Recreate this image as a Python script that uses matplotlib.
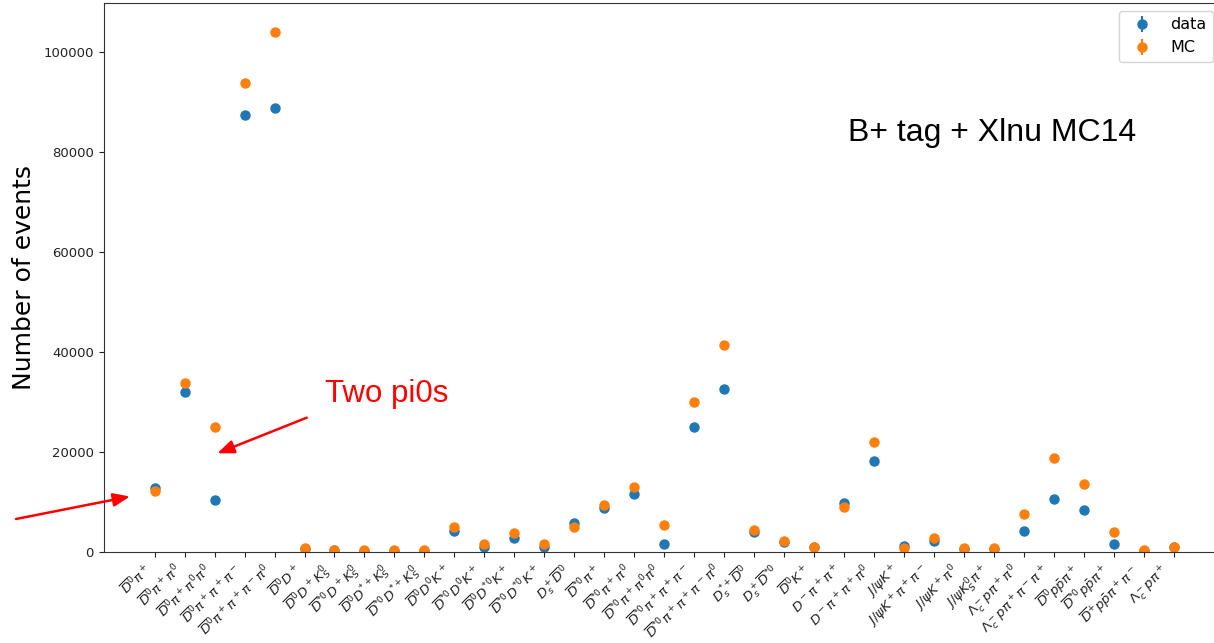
import numpy as np
import matplotlib
matplotlib.use("Agg")
import matplotlib.pyplot as plt

# Decay channels (B+ tag modes)
channels = [
    r'$\overline{D}^0\pi^+$',
    r'$\overline{D}^0\pi^+\pi^0$',
    r'$\overline{D}^0\pi^+\pi^0\pi^0$',
    r'$\overline{D}^0\pi^+\pi^+\pi^-$',
    r'$\overline{D}^0\pi^+\pi^+\pi^-\pi^0$',
    r'$\overline{D}^0D^+$',
    r'$\overline{D}^0D^+K^0_S$',
    r'$\overline{D}^{*0}D^+K^0_S$',
    r'$\overline{D}^0D^{*+}K^0_S$',
    r'$\overline{D}^{*0}D^{*+}K^0_S$',
    r'$\overline{D}^0D^0K^+$',
    r'$\overline{D}^{*0}D^0K^+$',
    r'$\overline{D}^0D^{*0}K^+$',
    r'$\overline{D}^{*0}D^{*0}K^+$',
    r'$D^+_s\overline{D}^0$',
    r'$\overline{D}^{*0}\pi^+$',
    r'$\overline{D}^{*0}\pi^+\pi^0$',
    r'$\overline{D}^{*0}\pi^+\pi^0\pi^0$',
    r'$\overline{D}^{*0}\pi^+\pi^+\pi^-$',
    r'$\overline{D}^{*0}\pi^+\pi^+\pi^-\pi^0$',
    r'$D^{*+}_s\overline{D}^0$',
    r'$D^+_s\overline{D}^{*0}$',
    r'$\overline{D}^0K^+$',
    r'$D^-\pi^+\pi^+$',
    r'$D^-\pi^+\pi^+\pi^0$',
    r'$J/\psi K^+$',
    r'$J/\psi K^+\pi^+\pi^-$',
    r'$J/\psi K^+\pi^0$',
    r'$J/\psi K^0_S\pi^+$',
    r'$\Lambda^-_c p\pi^+\pi^0$',
    r'$\Lambda^-_c p\pi^+\pi^-\pi^+$',
    r'$\overline{D}^0p\bar{p}\pi^+$',
    r'$\overline{D}^{*0}p\bar{p}\pi^+$',
    r'$\overline{D}^{+}p\bar{p}\pi^+\pi^-$',
    r'$\Lambda^-_c p\pi^+$',
]

data_counts = [
    12690, 31970, 10290, 87370, 88770,
    500, 250, 200, 200, 150,
    4200, 1000, 2800, 1000, 5690,
    8810, 11610, 1600, 24960, 32570,
    3940, 2000, 900, 9750, 18100,
    1140, 2140, 500, 500, 4200,
    10610, 8290, 1600, 200, 900,
]

mc_counts = [
    12210, 33830, 24960, 93770, 103980,
    800, 340, 340, 300, 300,
    4950, 1480, 3800, 1480, 5000,
    9290, 12890, 5400, 29970, 41400,
    4400, 2140, 1000, 9010, 21960,
    800, 2800, 680, 680, 7490,
    18700, 13490, 4000, 340, 1000,
]

W, H, DPI = 1214, 643, 100
fig = plt.figure(figsize=(W / DPI, H / DPI), dpi=DPI)
ax = fig.add_axes([103.7 / W, 1 - 551.7 / H, (1221 - 103.7) / W, (551.7 - 3) / H])

x = np.arange(len(channels))
data_arr = np.array(data_counts, dtype=float)
mc_arr = np.array(mc_counts, dtype=float)

ax.errorbar(x, data_arr, yerr=np.sqrt(data_arr), fmt='o', color='#1f77b4',
            markersize=6.5, label='data')
ax.errorbar(x, mc_arr, yerr=np.sqrt(mc_arr), fmt='o', color='#ff7f0e',
            markersize=6.5, label='MC')

ax.set_xlim(-1.7, 35.58)
ax.set_ylim(0, 109850)
ax.set_yticks([0, 20000, 40000, 60000, 80000, 100000])
ax.tick_params(axis='y', labelsize=9.5, colors='#222222', labelcolor='#222222')
ax.set_xticks(x)
ax.set_xticklabels(channels, rotation=45, ha='right', fontsize=9.5)
ax.tick_params(axis='x', colors='#222222')
for s in ax.spines.values():
    s.set_color('#333333')

ax.set_ylabel('Number of events', fontsize=18, labelpad=5.5)

ax.legend(loc='upper right', fontsize=11.5)

# Annotations
fig.text(848 / W, 1 - 141 / H, 'B+ tag + Xlnu MC14', fontsize=23,
         family='Liberation Sans', color='black', va='baseline', ha='left')
fig.text(325 / W, 1 - 401.7 / H, 'Two pi0s', fontsize=22.5,
         family='Liberation Sans', color='#ff0000', va='baseline', ha='left')

def fig_arrow(x0, y0, x1, y1):
    ax.annotate('', xy=(x1 / W, 1 - y1 / H), xytext=(x0 / W, 1 - y0 / H),
                xycoords='figure fraction', textcoords='figure fraction',
                arrowprops=dict(arrowstyle='-|>,head_length=1.0,head_width=0.4',
                                color='#ff0000', lw=1.8,
                                shrinkA=0, shrinkB=0),
                annotation_clip=False)

fig_arrow(16, 519, 130, 496.5)
fig_arrow(306.7, 417.7, 217.3, 453.3)

fig.savefig('out.png', dpi=DPI)
